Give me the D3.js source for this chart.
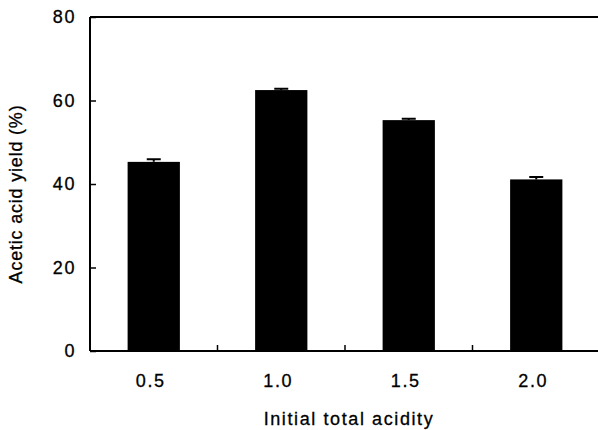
<!DOCTYPE html>
<html>
<head>
<meta charset="utf-8">
<script src="https://cdn.jsdelivr.net/npm/d3@7"></script>
<style>
  body { margin: 0; background: #fff; }
  text { font-family: Arial, "Liberation Sans", sans-serif; fill: #000; stroke: #000; stroke-width: 0.3px; font-size: 18px; letter-spacing: 1.6px; }
</style>
</head>
<body>
<div id="graph"></div>
<script>
// values
const categories = ["0.5", "1.0", "1.5", "2.0"];
const yieldValues = [45.3, 62.5, 55.3, 41.1];
const errorValues = [0.6, 0.3, 0.3, 0.6];
const yTicks = [0, 20, 40, 60, 80];

var width = 598, height = 430;
var margins = {top: 17, bottom: 79, right: -2, left: 90};
var graphWidth = width - margins.left - margins.right;
var graphHeight = height - margins.top - margins.bottom;

var svg = d3.select('#graph')
  .append('svg')
  .attr('width', width)
  .attr('height', height)
  .append('g')
  .attr('transform', 'translate(' + margins.left + ',' + margins.top + ')');

const x = d3.scaleBand()
  .domain(categories)
  .range([0, graphWidth])
  .padding(0);

const y = d3.scaleLinear()
  .domain([0, 80])
  .range([graphHeight, 0]);

var barWidth = x.bandwidth() * 0.41;

// bars
svg.selectAll('.bar')
  .data(categories)
  .enter().append('rect')
  .attr('class', 'bar')
  .attr('x', (d) => x(d) + (x.bandwidth() - barWidth) / 2)
  .attr('y', (d, i) => y(yieldValues[i]))
  .attr('width', barWidth)
  .attr('height', (d, i) => graphHeight - y(yieldValues[i]))
  .style('fill', '#000');

// error bars (upper only)
svg.selectAll('.err')
  .data(categories)
  .enter().append('path')
  .attr('class', 'err')
  .attr('d', (d, i) => {
    var cx = x(d) + x.bandwidth() / 2;
    var y0 = y(yieldValues[i]);
    var y1 = y(yieldValues[i] + errorValues[i]);
    return 'M' + cx + ',' + y0 + 'V' + y1 + 'M' + (cx - 7) + ',' + y1 + 'H' + (cx + 7);
  })
  .style('stroke', '#000')
  .style('stroke-width', 2)
  .style('fill', 'none');

// top frame line
svg.append('line')
  .attr('x1', 0).attr('x2', graphWidth)
  .attr('y1', 0).attr('y2', 0)
  .style('stroke', '#000').style('stroke-width', 2);

// y axis, ticks pointing inward
var yAxis = svg.append('g')
  .call(d3.axisRight(y).tickValues(yTicks).tickSize(6).tickFormat(''));
yAxis.select('.domain').remove();
yAxis.selectAll('line').style('stroke-width', 1.5);
svg.append('line')
  .attr('x1', 0).attr('x2', 0).attr('y1', 0).attr('y2', graphHeight)
  .style('stroke', '#000').style('stroke-width', 2);
svg.selectAll('.ylab')
  .data(yTicks)
  .enter().append('text')
  .attr('class', 'ylab')
  .attr('x', -14)
  .attr('y', d => y(d))
  .attr('dy', '0.36em')
  .attr('text-anchor', 'end')
  .text(d => d);

// x axis, ticks between categories pointing up
var boundaries = categories.slice(1);
var xAxis = svg.append('g')
  .attr('transform', 'translate(0,' + graphHeight + ')');
xAxis.selectAll('.xt')
  .data(boundaries)
  .enter().append('line')
  .attr('x1', d => x(d)).attr('x2', d => x(d))
  .attr('y1', 0).attr('y2', -6)
  .style('stroke', '#000').style('stroke-width', 1.5);
xAxis.append('line')
  .attr('x1', 0).attr('x2', graphWidth).attr('y1', 0).attr('y2', 0)
  .style('stroke', '#000').style('stroke-width', 2);
xAxis.selectAll('.xlab')
  .data(categories)
  .enter().append('text')
  .attr('class', 'xlab')
  .attr('x', d => x(d) + x.bandwidth() / 2 - 3)
  .attr('y', 36)
  .attr('text-anchor', 'middle')
  .text(d => d);

// axis titles
svg.append('text')
  .attr('x', 259)
  .attr('y', graphHeight + 74)
  .attr('text-anchor', 'middle')
  .text('Initial total acidity');

svg.append('text')
  .attr('transform', 'translate(-68,' + 177 + ') rotate(-90)')
  .attr('text-anchor', 'middle')
  .style('letter-spacing', '0.8px')
  .text('Acetic acid yield (%)');
</script>
</body>
</html>
